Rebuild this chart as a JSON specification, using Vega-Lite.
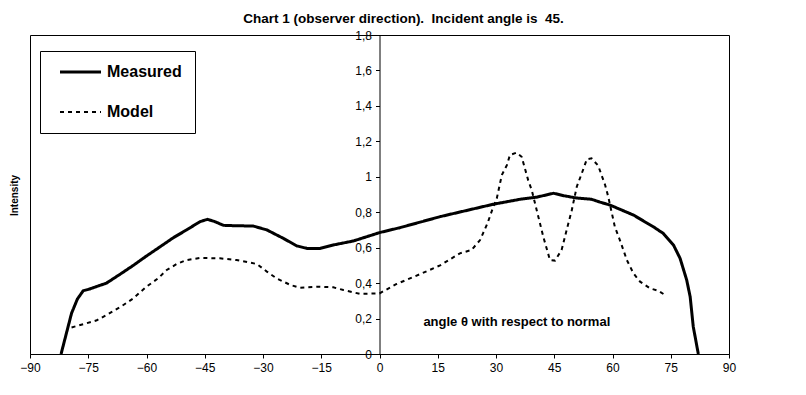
{
  "$schema": "https://vega.github.io/schema/vega-lite/v6.json",
  "width": 699,
  "height": 319,
  "autosize": "none",
  "padding": {"left": 30, "top": 35, "right": 77, "bottom": 41},
  "background": "white",
  "config": {
    "font": "Liberation Sans",
    "view": {"stroke": "black", "strokeWidth": 1},
    "axis": {"labelOverlap": false}
  },
  "title": {
    "text": "Chart 1 (observer direction).\u00a0 Incident angle is\u00a0 45.",
    "fontSize": 13.5,
    "fontWeight": "bold",
    "font": "Liberation Sans",
    "color": "black",
    "anchor": "middle",
    "dx": 24,
    "offset": 4
  },
  "layer": [
    {
      "data": {
        "values": [
          {"series": "Measured", "angle": -82.0, "intensity": 0.0},
          {"series": "Measured", "angle": -79.3, "intensity": 0.23},
          {"series": "Measured", "angle": -77.8, "intensity": 0.31},
          {"series": "Measured", "angle": -76.3, "intensity": 0.357},
          {"series": "Measured", "angle": -74.6, "intensity": 0.367},
          {"series": "Measured", "angle": -72.4, "intensity": 0.384},
          {"series": "Measured", "angle": -70.3, "intensity": 0.40},
          {"series": "Measured", "angle": -66.8, "intensity": 0.45},
          {"series": "Measured", "angle": -63.4, "intensity": 0.50},
          {"series": "Measured", "angle": -60.0, "intensity": 0.553},
          {"series": "Measured", "angle": -56.5, "intensity": 0.605},
          {"series": "Measured", "angle": -53.1, "intensity": 0.656},
          {"series": "Measured", "angle": -49.7, "intensity": 0.70},
          {"series": "Measured", "angle": -46.2, "intensity": 0.747},
          {"series": "Measured", "angle": -44.3, "intensity": 0.76},
          {"series": "Measured", "angle": -42.4, "intensity": 0.747},
          {"series": "Measured", "angle": -40.2, "intensity": 0.726},
          {"series": "Measured", "angle": -37.6, "intensity": 0.724},
          {"series": "Measured", "angle": -32.5, "intensity": 0.722},
          {"series": "Measured", "angle": -29.0, "intensity": 0.70},
          {"series": "Measured", "angle": -24.8, "intensity": 0.653},
          {"series": "Measured", "angle": -21.3, "intensity": 0.61},
          {"series": "Measured", "angle": -18.7, "intensity": 0.596},
          {"series": "Measured", "angle": -15.3, "intensity": 0.596},
          {"series": "Measured", "angle": -11.9, "intensity": 0.615},
          {"series": "Measured", "angle": -6.7, "intensity": 0.638},
          {"series": "Measured", "angle": -2.4, "intensity": 0.668},
          {"series": "Measured", "angle": 0.0, "intensity": 0.685},
          {"series": "Measured", "angle": 5.3, "intensity": 0.713},
          {"series": "Measured", "angle": 15.6, "intensity": 0.775},
          {"series": "Measured", "angle": 29.3, "intensity": 0.845},
          {"series": "Measured", "angle": 36.2, "intensity": 0.873},
          {"series": "Measured", "angle": 40.5, "intensity": 0.885},
          {"series": "Measured", "angle": 44.8, "intensity": 0.907},
          {"series": "Measured", "angle": 47.5, "intensity": 0.893},
          {"series": "Measured", "angle": 50.8, "intensity": 0.88},
          {"series": "Measured", "angle": 54.6, "intensity": 0.873},
          {"series": "Measured", "angle": 56.8, "intensity": 0.857},
          {"series": "Measured", "angle": 59.4, "intensity": 0.84},
          {"series": "Measured", "angle": 65.4, "intensity": 0.784},
          {"series": "Measured", "angle": 70.5, "intensity": 0.718},
          {"series": "Measured", "angle": 73.1, "intensity": 0.68},
          {"series": "Measured", "angle": 75.7, "intensity": 0.615},
          {"series": "Measured", "angle": 77.4, "intensity": 0.54},
          {"series": "Measured", "angle": 79.1, "intensity": 0.418},
          {"series": "Measured", "angle": 80.0, "intensity": 0.323},
          {"series": "Measured", "angle": 80.8, "intensity": 0.154},
          {"series": "Measured", "angle": 82.1, "intensity": 0.0},
          {"series": "Model", "angle": -79.3, "intensity": 0.15},
          {"series": "Model", "angle": -76.3, "intensity": 0.168},
          {"series": "Model", "angle": -72.8, "intensity": 0.19},
          {"series": "Model", "angle": -70.3, "intensity": 0.22},
          {"series": "Model", "angle": -66.4, "intensity": 0.27},
          {"series": "Model", "angle": -63.4, "intensity": 0.314},
          {"series": "Model", "angle": -60.0, "intensity": 0.38},
          {"series": "Model", "angle": -57.0, "intensity": 0.427},
          {"series": "Model", "angle": -54.8, "intensity": 0.474},
          {"series": "Model", "angle": -52.2, "intensity": 0.508},
          {"series": "Model", "angle": -49.7, "intensity": 0.53},
          {"series": "Model", "angle": -46.2, "intensity": 0.542},
          {"series": "Model", "angle": -41.1, "intensity": 0.54},
          {"series": "Model", "angle": -36.8, "intensity": 0.53},
          {"series": "Model", "angle": -31.6, "intensity": 0.508},
          {"series": "Model", "angle": -29.0, "intensity": 0.465},
          {"series": "Model", "angle": -26.5, "intensity": 0.427},
          {"series": "Model", "angle": -23.0, "intensity": 0.39},
          {"series": "Model", "angle": -20.5, "intensity": 0.374},
          {"series": "Model", "angle": -15.3, "intensity": 0.38},
          {"series": "Model", "angle": -11.9, "intensity": 0.376},
          {"series": "Model", "angle": -9.3, "intensity": 0.361},
          {"series": "Model", "angle": -5.0, "intensity": 0.339},
          {"series": "Model", "angle": 0.0, "intensity": 0.342},
          {"series": "Model", "angle": 4.4, "intensity": 0.395},
          {"series": "Model", "angle": 10.4, "intensity": 0.45},
          {"series": "Model", "angle": 15.6, "intensity": 0.50},
          {"series": "Model", "angle": 20.7, "intensity": 0.568},
          {"series": "Model", "angle": 23.7, "intensity": 0.587},
          {"series": "Model", "angle": 25.9, "intensity": 0.643},
          {"series": "Model", "angle": 27.8, "intensity": 0.737},
          {"series": "Model", "angle": 29.3, "intensity": 0.83},
          {"series": "Model", "angle": 30.2, "intensity": 0.878},
          {"series": "Model", "angle": 31.5, "intensity": 1.01},
          {"series": "Model", "angle": 32.8, "intensity": 1.066},
          {"series": "Model", "angle": 33.6, "intensity": 1.123},
          {"series": "Model", "angle": 35.3, "intensity": 1.136},
          {"series": "Model", "angle": 36.6, "intensity": 1.113},
          {"series": "Model", "angle": 38.3, "intensity": 0.98},
          {"series": "Model", "angle": 39.2, "intensity": 0.925},
          {"series": "Model", "angle": 40.5, "intensity": 0.81},
          {"series": "Model", "angle": 42.2, "intensity": 0.66},
          {"series": "Model", "angle": 43.9, "intensity": 0.53},
          {"series": "Model", "angle": 45.2, "intensity": 0.527},
          {"series": "Model", "angle": 46.9, "intensity": 0.587},
          {"series": "Model", "angle": 48.2, "intensity": 0.70},
          {"series": "Model", "angle": 49.5, "intensity": 0.81},
          {"series": "Model", "angle": 50.8, "intensity": 0.944},
          {"series": "Model", "angle": 52.1, "intensity": 1.02},
          {"series": "Model", "angle": 53.4, "intensity": 1.099},
          {"series": "Model", "angle": 54.6, "intensity": 1.104},
          {"series": "Model", "angle": 56.3, "intensity": 1.063},
          {"series": "Model", "angle": 58.1, "intensity": 0.954},
          {"series": "Model", "angle": 58.9, "intensity": 0.888},
          {"series": "Model", "angle": 60.6, "intensity": 0.718},
          {"series": "Model", "angle": 61.9, "intensity": 0.643},
          {"series": "Model", "angle": 63.7, "intensity": 0.53},
          {"series": "Model", "angle": 65.4, "intensity": 0.455},
          {"series": "Model", "angle": 67.1, "intensity": 0.408},
          {"series": "Model", "angle": 69.7, "intensity": 0.37},
          {"series": "Model", "angle": 71.8, "intensity": 0.357},
          {"series": "Model", "angle": 73.5, "intensity": 0.333}
        ]
      },
      "mark": {"type": "line", "color": "black", "strokeCap": "butt"},
      "encoding": {
        "x": {
          "field": "angle",
          "type": "quantitative",
          "scale": {"domain": [-90, 90], "nice": false, "zero": false},
          "axis": {
            "values": [-90, -75, -60, -45, -30, -15, 0, 15, 30, 45, 60, 75, 90],
            "tickCount": 13,
            "title": null,
            "grid": false,
            "labelFlush": false,
            "labelOverlap": false,
            "labelFontSize": 12,
            "labelColor": "black",
            "labelPadding": 4,
            "tickSize": 4,
            "tickColor": "black",
            "domainColor": "black"
          }
        },
        "y": {
          "field": "intensity",
          "type": "quantitative",
          "scale": {"domain": [0, 1.8], "nice": false},
          "axis": {
            "orient": "left",
            "offset": -349.5,
            "values": [0, 0.2, 0.4, 0.6, 0.8, 1, 1.2, 1.4, 1.6, 1.8],
            "tickCount": 10,
            "labelExpr": "replace(format(datum.value, '.1~f'), '.', ',')",
            "labelOverlap": false,
            "labelFlush": false,
            "grid": false,
            "labelFontSize": 12,
            "labelColor": "black",
            "labelPadding": 4,
            "tickSize": 4,
            "tickColor": "black",
            "domainColor": "black",
            "title": "Intensity",
            "titleFontSize": 10,
            "titleFontWeight": "bold",
            "titleColor": "black",
            "titleX": -365,
            "titleY": 160,
            "titleAngle": -90,
            "titleAlign": "center",
            "titleBaseline": "middle"
          }
        },
        "strokeDash": {
          "field": "series",
          "type": "nominal",
          "scale": {"domain": ["Measured", "Model"], "range": [[1, 0], [4, 4]]},
          "legend": {
            "orient": "none",
            "legendX": 10,
            "legendY": 16,
            "title": null,
            "strokeColor": "black",
            "fillColor": "white",
            "padding": 13,
            "symbolType": "M-0.2,0H8",
            "symbolSize": 100,
            "symbolStrokeColor": "black",
            "labelFontSize": 16,
            "labelFontWeight": "bold",
            "labelColor": "black",
            "labelOffset": 38,
            "rowPadding": 24
          }
        },
        "strokeWidth": {
          "field": "series",
          "type": "nominal",
          "scale": {"domain": ["Measured", "Model"], "range": [3, 2]},
          "legend": {
            "orient": "none",
            "legendX": 10,
            "legendY": 16,
            "title": null,
            "strokeColor": "black",
            "fillColor": "white",
            "padding": 13,
            "symbolType": "M-0.2,0H8",
            "symbolSize": 100,
            "symbolStrokeColor": "black",
            "labelFontSize": 16,
            "labelFontWeight": "bold",
            "labelColor": "black",
            "labelOffset": 38,
            "rowPadding": 24
          }
        }
      }
    },
    {
      "data": {"values": [{"angle": 11.3, "intensity": 0.18, "label": "angle θ with respect to normal"}]},
      "mark": {"type": "text", "align": "left", "baseline": "middle", "fontSize": 13, "fontWeight": "bold", "color": "black"},
      "encoding": {
        "x": {"field": "angle", "type": "quantitative"},
        "y": {"field": "intensity", "type": "quantitative"},
        "text": {"field": "label"}
      }
    }
  ]
}
